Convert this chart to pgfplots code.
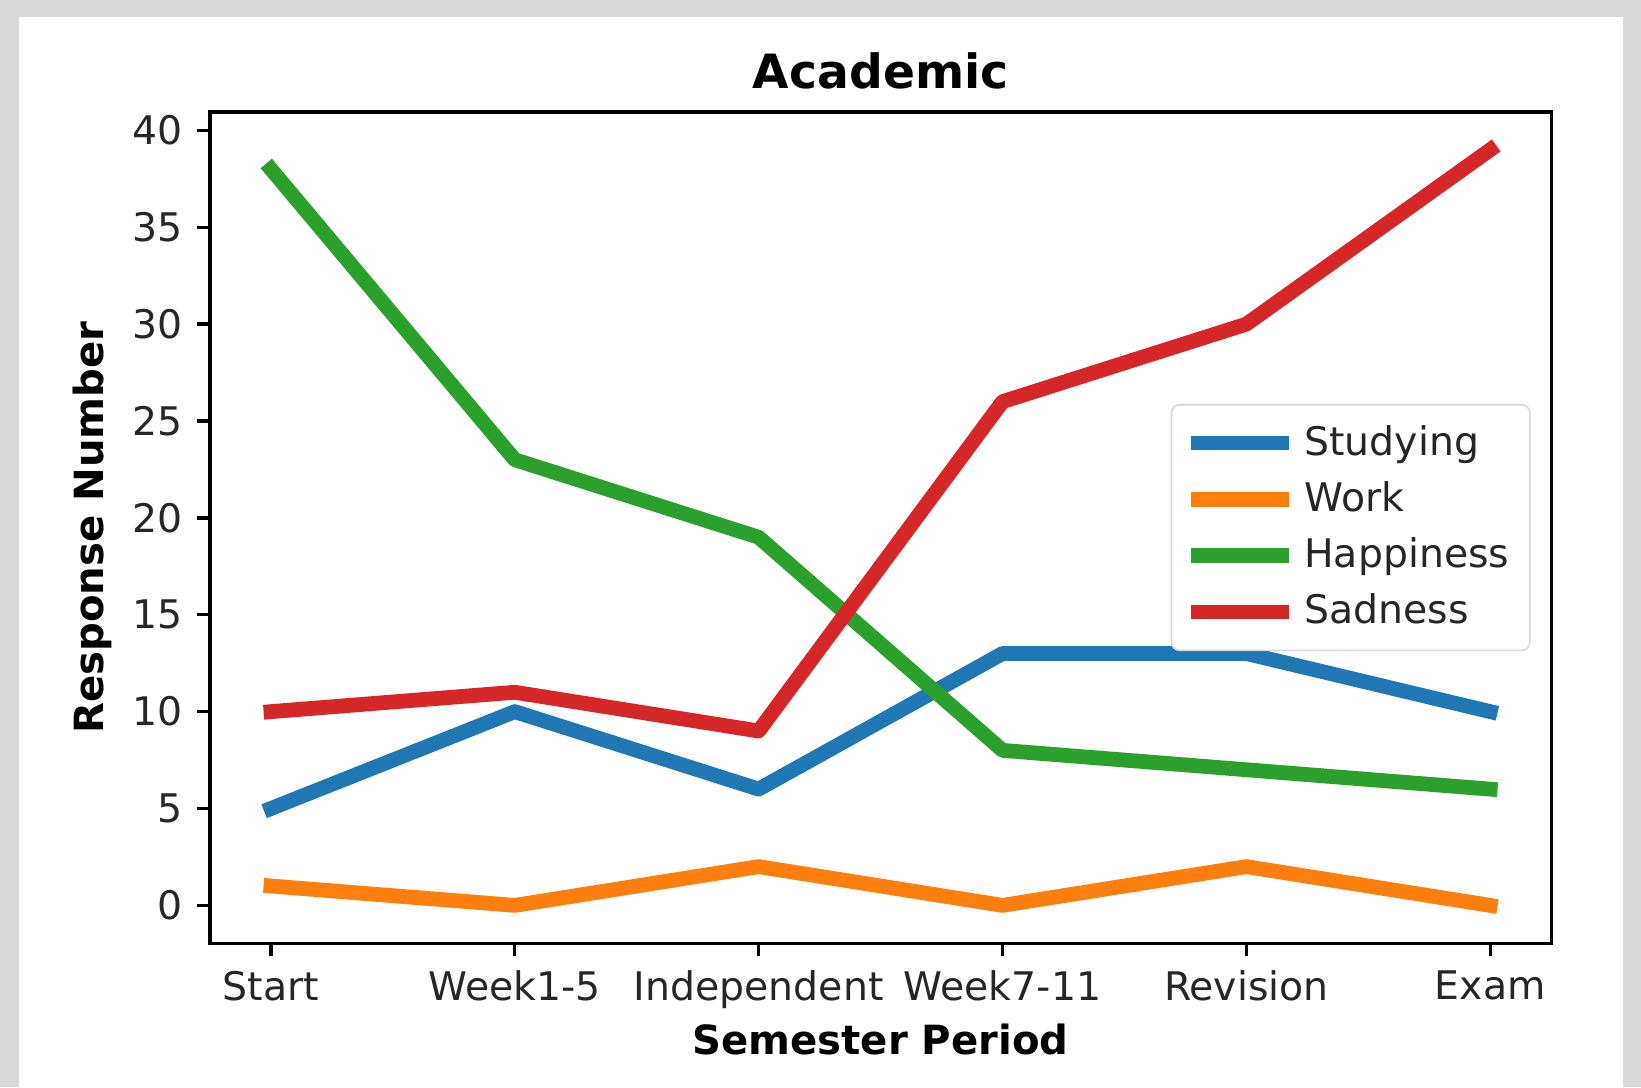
\documentclass[border=0pt]{standalone}
\usepackage{pgfplots}
\pgfplotsset{compat=1.18}
\usepackage{fontspec}
\setmainfont{DejaVu Sans}
\definecolor{c1}{HTML}{1F77B4}
\definecolor{c2}{HTML}{FF7F0E}
\definecolor{c3}{HTML}{2CA02C}
\definecolor{c4}{HTML}{D62728}
\definecolor{bg}{HTML}{D9D9D9}
\definecolor{tk}{HTML}{262626}
\begin{document}
\begin{tikzpicture}
\fill[bg] (0,0) rectangle (400pt,265pt);
\fill[white] (4.63pt,0) rectangle (395.6pt,260.8pt);
\useasboundingbox (0,0) rectangle (400pt,265pt);
\begin{axis}[
  at={(51.2pt,35.1pt)}, anchor=south west,
  scale only axis, width=326.9pt, height=202.6pt,
  xmin=-0.25, xmax=5.25, ymin=-1.95, ymax=40.95,
  xtick={0,1,2,3,4,5},
  xticklabels={Start,Week1-5,Independent,Week7-11,Revision,Exam},
  ytick={0,5,10,15,20,25,30,35,40},
  tick align=outside, major tick length=3.2pt,
  tick style={black, line width=0.8pt},
  xtick pos=bottom, ytick pos=left,
  axis line style={black, line width=0.8pt},
  /pgf/number format/assume math mode=true,
  tick label style={font=\fontsize{9.6}{11.5}\selectfont, text=tk},
  title={\textbf{Academic}},
  title style={font=\fontsize{11.5}{13}\selectfont, at={(0.5,1)}, anchor=south, yshift=-4pt},
  xlabel={\textbf{Semester Period}},
  ylabel={\textbf{Response Number}},
  label style={font=\fontsize{9.8}{12}\selectfont},
  xlabel style={yshift=3.2pt},
  ylabel style={yshift=-2pt},
  legend style={at={([xshift=-5pt]rel axis cs:1,0.5)}, anchor=east,
    draw=black!15, rounded corners=2pt, fill=white,
    font=\fontsize{9.6}{11.5}\selectfont, text=tk,
    row sep=0.9pt, inner xsep=3pt, inner ysep=3pt},
  legend cell align=left,
  legend image code/.code={\draw[#1, line width=3.5pt, line cap=butt] (0cm,0cm) -- (0.84cm,0cm);},
  every axis plot/.append style={line width=3.6pt, line cap=rect, line join=round},
]
\addplot[c1] coordinates {(0,5) (1,10) (2,6) (3,13) (4,13) (5,10)};
\addlegendentry{Studying}
\addplot[c2] coordinates {(0,1) (1,0) (2,2) (3,0) (4,2) (5,0)};
\addlegendentry{Work}
\addplot[c3] coordinates {(0,38) (1,23) (2,19) (3,8) (4,7) (5,6)};
\addlegendentry{Happiness}
\addplot[c4] coordinates {(0,10) (1,11) (2,9) (3,26) (4,30) (5,39)};
\addlegendentry{Sadness}
\end{axis}
\end{tikzpicture}
\end{document}
